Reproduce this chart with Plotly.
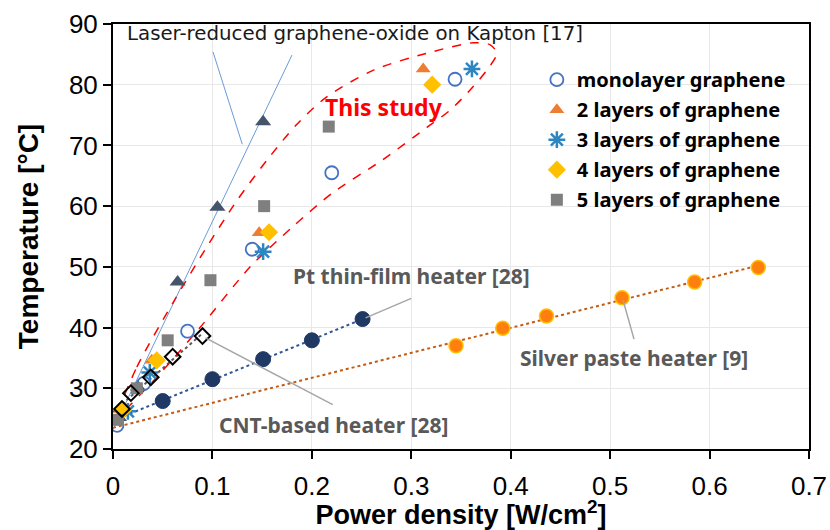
import numpy as np
import plotly.graph_objects as go

# ---------------- data ----------------
mono_x = [0.004, 0.031, 0.075, 0.140, 0.220, 0.344]
mono_y = [23.9, 30.8, 39.4, 52.9, 65.5, 80.9]

l2_x = [0.008, 0.039, 0.147, 0.312]
l2_y = [26.5, 34.6, 55.6, 82.6]

l3_x = [0.015, 0.037, 0.151, 0.361]
l3_y = [26.2, 32.6, 52.5, 82.6]

l4_x = [0.010, 0.044, 0.157, 0.321]
l4_y = [26.4, 34.6, 55.7, 80.0]

l5_x = [0.005, 0.024, 0.055, 0.098, 0.152, 0.217]
l5_y = [24.8, 30.0, 37.9, 47.8, 60.0, 73.1]

laser_x = [0.006, 0.025, 0.065, 0.105, 0.151]
laser_y = [25.2, 30.2, 47.5, 59.8, 73.9]

cnt_x = [0.009, 0.018, 0.038, 0.060, 0.090]
cnt_y = [26.6, 29.2, 31.8, 35.2, 38.6]

pt_x = [0.050, 0.100, 0.151, 0.200, 0.251]
pt_y = [27.9, 31.5, 34.8, 37.9, 41.4]

silver_x = [0.345, 0.392, 0.436, 0.512, 0.585, 0.649]
silver_y = [37.0, 39.9, 41.9, 44.9, 47.5, 49.9]

# trend-line extents (x range over which each linear fit is drawn)
laser_fit_range = [0.0, 0.18]
cnt_fit_range = [0.0, 0.090]
pt_fit_range = [0.0, 0.251]
silver_fit_range = [0.0, 0.649]

# outline of the "This study" enclosure
study_x = [0.002, 0.024, 0.060, 0.0925, 0.125, 0.155, 0.185, 0.215, 0.262, 0.316, 0.362,
           0.379, 0.386, 0.376, 0.359, 0.339, 0.316, 0.270, 0.221, 0.180, 0.138, 0.0875,
           0.045, 0.010, 0.002]
study_y = [24.6, 33.5, 44.0, 52.8, 61.0, 67.6, 73.5, 78.0, 82.4, 85.2, 86.9,
           86.6, 85.2, 82.4, 79.1, 75.8, 73.0, 67.5, 62.2, 56.5, 50.0, 40.0,
           32.0, 26.0, 24.6]

x_ticks = [0, 0.1, 0.2, 0.3, 0.4, 0.5, 0.6, 0.7]
x_tick_text = ["0", "0.1", "0.2", "0.3", "0.4", "0.5", "0.6", "0.7"]
y_ticks = [20, 30, 40, 50, 60, 70, 80, 90]


def trend(x, y, rng):
    c = np.polyfit(x, y, 1)
    xs = np.array(rng)
    return xs, np.polyval(c, xs)


fig = go.Figure()

# trend lines
lx, ly = trend(laser_x, laser_y, laser_fit_range)
fig.add_trace(go.Scatter(x=lx, y=ly, mode="lines", line=dict(color="#6A9BD8", width=1),
                         showlegend=False, hoverinfo="skip"))
sx, sy = trend(silver_x, silver_y, silver_fit_range)
fig.add_trace(go.Scatter(x=sx, y=sy, mode="lines", line=dict(color="#C55A11", width=2, dash="dot"),
                         showlegend=False, hoverinfo="skip"))
px_, py_ = trend(pt_x, pt_y, pt_fit_range)
fig.add_trace(go.Scatter(x=px_, y=py_, mode="lines", line=dict(color="#2F5597", width=2, dash="dot"),
                         showlegend=False, hoverinfo="skip"))
cx, cy = trend(cnt_x, cnt_y, cnt_fit_range)
fig.add_trace(go.Scatter(x=cx, y=cy, mode="lines", line=dict(color="#595959", width=2, dash="dot"),
                         showlegend=False, hoverinfo="skip"))

# enclosure
fig.add_trace(go.Scatter(x=study_x, y=study_y, mode="lines",
                         line=dict(color="#FF0000", width=1.5, dash="dash", shape="spline", smoothing=0.8),
                         showlegend=False, hoverinfo="skip"))

# reference heaters
fig.add_trace(go.Scatter(x=silver_x, y=silver_y, mode="markers", name="Silver paste heater [9]",
                         marker=dict(symbol="circle", size=14, color="#FF7F0E",
                                     line=dict(color="#FFC000", width=1.5)), showlegend=False))
fig.add_trace(go.Scatter(x=pt_x, y=pt_y, mode="markers", name="Pt thin-film heater [28]",
                         marker=dict(symbol="circle", size=15, color="#1F3864",
                                     line=dict(color="#1F3864", width=1)), showlegend=False))
fig.add_trace(go.Scatter(x=laser_x, y=laser_y, mode="markers", name="Laser-reduced GO",
                         marker=dict(symbol="triangle-up", size=14, color="#44546A"), showlegend=False))

# this study
fig.add_trace(go.Scatter(x=mono_x, y=mono_y, mode="markers", name="monolayer graphene",
                         legendgroup="g1",
                         marker=dict(symbol="circle-open", size=13, color="#4472C4",
                                     line=dict(width=1.8))))
fig.add_trace(go.Scatter(x=l2_x, y=l2_y, mode="markers", name="2 layers of graphene",
                         legendgroup="g2",
                         marker=dict(symbol="triangle-up", size=13, color="#ED7D31")))
fig.add_trace(go.Scatter(x=l3_x, y=l3_y, mode="markers", name="3 layers of graphene",
                         legendgroup="g3",
                         marker=dict(symbol="asterisk-open", size=14, color="#2E86C1",
                                     line=dict(color="#2E86C1", width=2.5))))
fig.add_trace(go.Scatter(x=l4_x, y=l4_y, mode="markers", name="4 layers of graphene",
                         legendgroup="g4",
                         marker=dict(symbol="diamond", size=14, color="#FFC000")))
fig.add_trace(go.Scatter(x=l5_x, y=l5_y, mode="markers", name="5 layers of graphene",
                         legendgroup="g5",
                         marker=dict(symbol="square", size=12, color="#7F7F7F")))

fig.add_trace(go.Scatter(x=cnt_x, y=cnt_y, mode="markers", name="CNT-based heater [28]",
                         marker=dict(symbol="diamond-open", size=12, color="#000000",
                                     line=dict(width=2)), showlegend=False))

# pointer lines
ptr = dict(type="line", xref="x", yref="y", line=dict(color="#A6A6A6", width=1.5))
fig.add_shape(ptr, x0=0.300, y0=44.8, x1=0.254, y1=41.6)
fig.add_shape(ptr, x0=0.221, y0=27.3, x1=0.093, y1=38.3)
fig.add_shape(ptr, x0=0.524, y0=38.1, x1=0.513, y1=44.5)
fig.add_shape(type="line", xref="x", yref="y", x0=0.1006, y0=85.4, x1=0.130, y1=70.2,
              line=dict(color="#6A9BD8", width=1))

label_font = dict(family="Noto Sans", size=21, color="#595959", weight="bold")
fig.add_annotation(x=0.2435, y=88.5, text="Laser-reduced graphene-oxide on Kapton [17]",
                   showarrow=False, xanchor="center", yanchor="middle",
                   font=dict(family="DejaVu Sans", size=19.8, color="#1A1A1A"))
fig.add_annotation(x=0.273, y=76.3, text="This study", showarrow=False,
                   font=dict(family="Noto Sans", size=23, color="#FF0000", weight="bold"))
fig.add_annotation(x=0.300, y=48.5, text="Pt thin-film heater [28]", showarrow=False, font=label_font)
fig.add_annotation(x=0.222, y=23.9, text="CNT-based heater [28]", showarrow=False, font=label_font)
fig.add_annotation(x=0.5237, y=35.0, text="Silver paste heater [9]", showarrow=False, font=label_font)

axis_common = dict(showgrid=True, gridcolor="#E8E8E8", gridwidth=1, zeroline=False,
                   showline=True, linecolor="#000000", linewidth=2, mirror=True,
                   ticks="outside", ticklen=8, tickwidth=2, tickcolor="#000000",
                   tickfont=dict(family="Liberation Sans", size=26, color="#000000"))

fig.update_xaxes(range=[0, 0.7], tickvals=x_ticks, ticktext=x_tick_text,
                 ticklabelstandoff=5,
                 title=dict(text="Power density [W/cm<sup>2</sup>]",
                            font=dict(family="Liberation Sans", size=27, color="#000000", weight="bold"),
                            standoff=8),
                 **axis_common)
fig.update_yaxes(range=[20, 90], tickvals=y_ticks,
                 title=dict(text="Temperature [°C]",
                            font=dict(family="Liberation Sans", size=28, color="#000000", weight="bold"),
                            standoff=22),
                 **axis_common)

fig.update_layout(
    width=830, height=530,
    margin=dict(l=113, r=21, t=24, b=81, autoexpand=False),
    paper_bgcolor="#FFFFFF", plot_bgcolor="#FFFFFF",
    legend=dict(x=0.609, y=0.915, xanchor="left", yanchor="top", bgcolor="rgba(0,0,0,0)",
                font=dict(family="Noto Sans", size=20, color="#000000", weight="bold"),
                tracegroupgap=1, itemwidth=30),
)

fig.write_html("out.html")
